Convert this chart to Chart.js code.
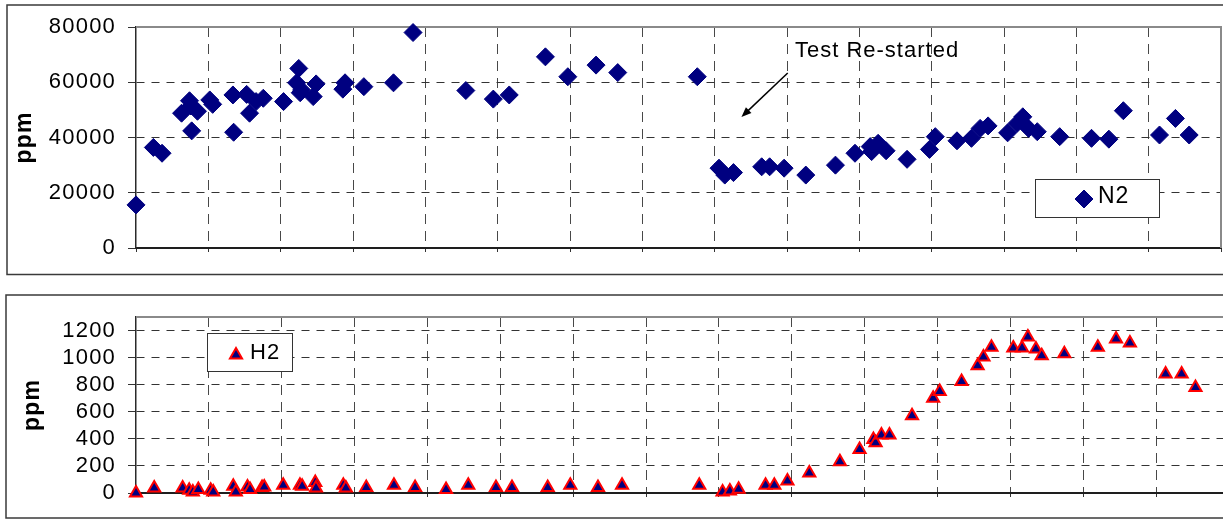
<!DOCTYPE html>
<html>
<head>
<meta charset="utf-8">
<script src="https://cdn.jsdelivr.net/npm/chart.js@4.4.1/dist/chart.umd.min.js"></script>
<style>
  html, body { margin: 0; padding: 0; background: #fff; overflow: hidden; width: 1223px; height: 519px; }
  canvas { position: absolute; left: 0; }
  #n2Chart { top: 0; }
  #h2Chart { top: 283px; }
</style>
</head>
<body>
<canvas id="n2Chart" width="1240" height="280"></canvas>
<canvas id="h2Chart" width="1245" height="236"></canvas>
<script>
// ---- data ----------------------------------------------------------------
// x: sampling time in grid intervals from the start of the run
const gridTicksX = [0, 1, 2, 3, 4, 5, 6, 7, 8, 9, 10, 11, 12, 13, 14, 15];
const n2Ticks = [0, 20000, 40000, 60000, 80000];
const h2Ticks = [0, 200, 400, 600, 800, 1000, 1200];
const h2AxisMax = 1300;

const n2X = [0.00, 0.24, 0.36, 0.63, 0.74, 0.76, 0.77, 0.85, 1.02, 1.06, 1.34, 1.35, 1.53, 1.57,
  1.66, 1.76, 2.04, 2.22, 2.25, 2.27, 2.29, 2.45, 2.49, 2.86, 2.89, 3.15, 3.56, 3.83,
  4.56, 4.94, 5.16, 5.66, 5.97, 6.36, 6.66, 7.76,
  8.06, 8.14, 8.26, 8.65, 8.76, 8.96, 9.26, 9.67, 9.94, 10.15, 10.17, 10.26, 10.37, 10.66,
  10.97, 11.05, 11.35, 11.55, 11.67, 11.78, 12.05, 12.18, 12.26, 12.34, 12.46, 12.77,
  13.21, 13.45, 13.65, 14.15, 14.37, 14.56];
const n2Ppm = [15600, 36400, 34300, 48800, 53300, 51400, 42400, 49500, 53600, 52000, 55400, 41900, 55600, 48800,
  53000, 54200, 53000, 59800, 65000, 56200, 57200, 54800, 59400, 57500, 59800, 58400, 59800, 78000,
  57000, 53900, 55400, 69200, 62000, 66200, 63500, 62000,
  28900, 26400, 27300, 29400, 29400, 28900, 26400, 30000, 34300, 36700, 34900, 37900, 35200, 32100,
  35700, 40300, 38800, 39700, 43300, 44200, 41700, 45100, 47500, 43300, 42100, 40300,
  39700, 39400, 49700, 40900, 46900, 40900];

const h2X = [0.00, 0.25, 0.64, 0.73, 0.78, 0.855, 1.025, 1.06, 1.335, 1.37, 1.53, 1.565, 1.73, 1.76,
  2.02, 2.25, 2.28, 2.46, 2.47, 2.845, 2.88, 3.16, 3.54, 3.83, 4.255, 4.56, 4.94, 5.16, 5.65,
  5.96, 6.34, 6.67, 7.73, 8.05, 8.15, 8.27, 8.64, 8.76, 8.94, 9.24, 9.66, 9.93, 10.12, 10.15,
  10.23, 10.34, 10.65, 10.94, 11.03, 11.33, 11.55, 11.63, 11.74, 12.04, 12.16, 12.24, 12.35,
  12.43, 12.74, 13.20, 13.45, 13.64, 14.13, 14.35, 14.54];
const h2Ppm = [0, 37, 37, 20, 8, 25, 20, 8, 50, 8, 45, 25, 40, 45,
  57, 57, 50, 77, 37, 57, 37, 40, 57, 40, 25, 57, 40, 40, 40,
  57, 40, 57, 57, 8, 15, 27, 57, 57, 89, 148, 230, 322, 396, 371,
  428, 428, 571, 700, 750, 824, 940, 1005, 1076, 1071, 1071, 1153, 1064,
  1014, 1029, 1076, 1138, 1108, 879, 879, 779];

const noteText = 'Test Re-started';
const noteAt = [9.11, 69250];
const arrowFrom = [9.01, 63350];
const arrowTo = [8.37, 47420];

// ---- drawing helpers -------------------------------------------------------
const FONT = "'Liberation Sans', Arial, sans-serif";
const NAVY = '#000080';
const CLEAR = 'rgba(0,0,0,0)';

const toPoints = (xs, ys) => xs.map((x, i) => ({ x, y: ys[i] }));

// white panel with its outer frame, plus the solid top/right edge of the plot area
const panelFrame = {
  id: 'panelFrame',
  beforeDraw(chart, args, o) {
    const ctx = chart.ctx;
    ctx.save();
    ctx.fillStyle = '#fff';
    ctx.fillRect(0, 0, chart.width, chart.height);
    ctx.strokeStyle = '#3a3a3a';
    ctx.lineWidth = 1.5;
    ctx.strokeRect(o.box[0], o.box[1], o.box[2], o.box[3]);
    ctx.restore();
    ctx.letterSpacing = '1.2px';
  },
  beforeDatasetsDraw(chart) {
    const { ctx, chartArea: a } = chart;
    ctx.save();
    ctx.strokeStyle = '#8a8a8a';
    ctx.lineWidth = 2;
    ctx.beginPath();
    ctx.moveTo(a.left, a.top);
    ctx.lineTo(a.right, a.top);
    ctx.lineTo(a.right, a.bottom);
    ctx.stroke();
    ctx.restore();
  }
};

// boxed legend inside the plot area
const boxLegend = {
  id: 'boxLegend',
  afterDatasetsDraw(chart, args, o) {
    const ctx = chart.ctx;
    const ds = chart.data.datasets[0];
    ctx.save();
    ctx.letterSpacing = '1px';
    ctx.fillStyle = '#fff';
    ctx.fillRect(o.x, o.y, o.w, o.h);
    ctx.strokeStyle = '#333';
    ctx.lineWidth = 1;
    ctx.strokeRect(o.x + 0.5, o.y + 0.5, o.w, o.h);
    ctx.fillStyle = ds.pointBackgroundColor;
    ctx.strokeStyle = ds.pointBorderColor;
    ctx.lineWidth = ds.pointBorderWidth;
    Chart.helpers.drawPoint(ctx, {
      pointStyle: ds.pointStyle, radius: ds.pointRadius,
      borderWidth: ds.pointBorderWidth, rotation: 0
    }, o.mx, o.my);
    ctx.fillStyle = '#000';
    ctx.font = o.size + 'px ' + FONT;
    ctx.textAlign = 'left';
    ctx.textBaseline = 'alphabetic';
    ctx.fillText(ds.label, o.tx, o.ty);
    ctx.restore();
  }
};

// "Test Re-started" note with its arrow
const restartNote = {
  id: 'restartNote',
  afterDatasetsDraw(chart) {
    const { ctx, scales: { x, y } } = chart;
    const x0 = x.getPixelForValue(arrowFrom[0]), y0 = y.getPixelForValue(arrowFrom[1]);
    const x1 = x.getPixelForValue(arrowTo[0]), y1 = y.getPixelForValue(arrowTo[1]);
    const ang = Math.atan2(y1 - y0, x1 - x0);
    const len = 10, half = 4;
    ctx.save();
    ctx.strokeStyle = '#000';
    ctx.fillStyle = '#000';
    ctx.lineWidth = 1.5;
    ctx.beginPath();
    ctx.moveTo(x0, y0);
    ctx.lineTo(x1 - Math.cos(ang) * len * 0.6, y1 - Math.sin(ang) * len * 0.6);
    ctx.stroke();
    ctx.beginPath();
    ctx.moveTo(x1, y1);
    ctx.lineTo(x1 - Math.cos(ang) * len - Math.sin(ang) * half, y1 - Math.sin(ang) * len + Math.cos(ang) * half);
    ctx.lineTo(x1 - Math.cos(ang) * len + Math.sin(ang) * half, y1 - Math.sin(ang) * len - Math.cos(ang) * half);
    ctx.closePath();
    ctx.fill();
    ctx.letterSpacing = '1px';
    ctx.font = '22px ' + FONT;
    ctx.textAlign = 'left';
    ctx.textBaseline = 'alphabetic';
    ctx.fillText(noteText, x.getPixelForValue(noteAt[0]), y.getPixelForValue(noteAt[1]));
    ctx.restore();
  }
};

function panelOptions(p) {
  return {
    responsive: false,
    animation: false,
    events: [],
    layout: { padding: p.padding },
    plugins: {
      legend: { display: false },
      tooltip: { enabled: false },
      panelFrame: { box: p.box },
      boxLegend: p.legend
    },
    scales: {
      x: {
        type: 'linear', min: 0, max: 15,
        afterBuildTicks: s => { s.ticks = gridTicksX.map(v => ({ value: v })); },
        afterFit: s => { s.height = 8; },
        ticks: { display: false },
        grid: {
          color: c => (c.tick && (c.tick.value === 0 || c.tick.value === 15)) ? CLEAR : '#484848',
          lineWidth: 1, tickLength: 4, tickColor: '#333', tickWidth: 1
        },
        border: { display: true, color: '#1e1e1e', width: 2, dash: [10, 7] }
      },
      y: {
        type: 'linear', min: 0, max: p.yMax,
        afterBuildTicks: s => { s.ticks = p.yTicks.map(v => ({ value: v })); },
        afterFit: s => { s.width = 136; },
        ticks: {
          color: '#000', autoSkip: false, padding: 12,
          font: { family: FONT, size: 22 },
          callback: v => String(v)
        },
        grid: {
          color: c => (c.tick && (c.tick.value === 0 || c.tick.value === p.yMax)) ? CLEAR : '#333',
          lineWidth: 1, tickLength: 8, tickColor: '#333', tickWidth: 1
        },
        border: { display: true, color: '#2a2a2a', width: 1.5, dash: [8, 7] },
        title: {
          display: true, text: 'ppm', color: '#000',
          font: { family: FONT, size: 23, weight: 'bold' },
          padding: { top: p.titlePad, bottom: 0 }
        }
      }
    }
  };
}

new Chart(document.getElementById('n2Chart'), {
  type: 'scatter',
  data: {
    datasets: [{
      label: 'N2',
      data: toPoints(n2X, n2Ppm),
      clip: false,
      pointStyle: 'rectRot',
      pointRadius: 9,
      pointBackgroundColor: NAVY,
      pointBorderColor: NAVY,
      pointBorderWidth: 1,
      showLine: false
    }]
  },
  options: panelOptions({
    padding: { top: 27, right: 19, bottom: 24, left: 0 },
    box: [7, 5, 1250, 269.5],
    yMax: 80000, yTicks: n2Ticks, titlePad: 11,
    legend: { x: 1035, y: 179, w: 124, h: 38, mx: 1084, my: 199, tx: 1098, ty: 203, size: 23 }
  }),
  plugins: [panelFrame, boxLegend, restartNote]
});

new Chart(document.getElementById('h2Chart'), {
  type: 'scatter',
  data: {
    datasets: [{
      label: 'H2',
      data: toPoints(h2X, h2Ppm),
      clip: false,
      pointStyle: 'triangle',
      pointRadius: 7,
      pointBackgroundColor: NAVY,
      pointBorderColor: '#ff0000',
      pointBorderWidth: 2,
      showLine: false
    }]
  },
  options: panelOptions({
    padding: { top: 34, right: 16, bottom: 18, left: 0 },
    box: [6, 12, 1260, 223],
    yMax: h2AxisMax, yTicks: h2Ticks, titlePad: 19,
    legend: { x: 207, y: 50, w: 85, h: 38, mx: 236, my: 72, tx: 250, ty: 76, size: 22 }
  }),
  plugins: [panelFrame, boxLegend]
});
</script>
</body>
</html>
